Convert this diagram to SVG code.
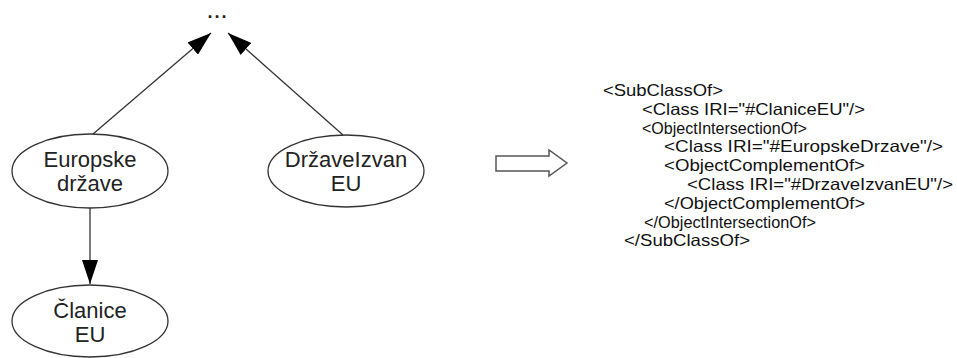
<svg xmlns="http://www.w3.org/2000/svg" width="957" height="358" viewBox="0 0 957 358">
<style>
.node ellipse{fill:#fff;stroke:#333;stroke-width:1.3}
.lbl{font-family:"Liberation Sans",Arial,sans-serif;font-size:22px;fill:#222;text-anchor:middle}
.dots{font-family:"Liberation Sans",Arial,sans-serif;font-size:18px;font-weight:bold;fill:#222;text-anchor:middle}
.edge{stroke:#333;stroke-width:1.3;fill:none}
.xml{font-family:"Liberation Sans",Arial,sans-serif;font-size:16.5px;fill:#111}
</style>
<defs>
<marker id="ah" viewBox="0 0 24 16" refX="24" refY="8" markerWidth="24" markerHeight="16" markerUnits="userSpaceOnUse" orient="auto">
<path d="M0,0 L24,8 L0,16 Z" fill="#000"/>
</marker>
</defs>
<rect width="957" height="358" fill="#fff"/>
<g id="top">
<text x="218" y="18" class="dots" letter-spacing="2">...</text>
</g>
<g id="connectors">
<line class="edge" x1="93" y1="134" x2="211" y2="33" marker-end="url(#ah)"/>
<line class="edge" x1="343" y1="135" x2="228" y2="33" marker-end="url(#ah)"/>
<line class="edge" x1="90" y1="208" x2="90" y2="284" marker-end="url(#ah)"/>
</g>
<g id="europske" class="node">
<ellipse cx="90" cy="171" rx="78" ry="37"/>
<text x="90" y="167" class="lbl">Europske</text>
<text x="90" y="191" class="lbl">države</text>
</g>
<g id="drzaveizvan" class="node">
<ellipse cx="346" cy="171" rx="78" ry="36"/>
<text x="346" y="167" class="lbl">DržaveIzvan</text>
<text x="346" y="191" class="lbl">EU</text>
</g>
<g id="clanice" class="node">
<ellipse cx="90" cy="321" rx="78" ry="36"/>
<text x="90" y="318" class="lbl">Članice</text>
<text x="90" y="342" class="lbl">EU</text>
</g>
<g id="blockarrow">
<polygon points="496,156 549,156 549,150 567,163 549,176 549,171 496,171" fill="#fff" stroke="#555" stroke-width="1.5"/>
</g>
<g id="owlxml" class="xml">
<text x="603" y="96" textLength="120" lengthAdjust="spacingAndGlyphs">&lt;SubClassOf&gt;</text>
<text x="642" y="114.8" textLength="223" lengthAdjust="spacingAndGlyphs">&lt;Class IRI="#ClaniceEU"/&gt;</text>
<text x="642" y="133.6" textLength="165" lengthAdjust="spacingAndGlyphs">&lt;ObjectIntersectionOf&gt;</text>
<text x="664" y="152.4" textLength="279" lengthAdjust="spacingAndGlyphs">&lt;Class IRI="#EuropskeDrzave"/&gt;</text>
<text x="664" y="171.2" textLength="201" lengthAdjust="spacingAndGlyphs">&lt;ObjectComplementOf&gt;</text>
<text x="687" y="190" textLength="266" lengthAdjust="spacingAndGlyphs">&lt;Class IRI="#DrzaveIzvanEU"/&gt;</text>
<text x="664" y="208.8" textLength="201" lengthAdjust="spacingAndGlyphs">&lt;/ObjectComplementOf&gt;</text>
<text x="644" y="227.6" textLength="172" lengthAdjust="spacingAndGlyphs">&lt;/ObjectIntersectionOf&gt;</text>
<text x="624" y="246.4" textLength="126" lengthAdjust="spacingAndGlyphs">&lt;/SubClassOf&gt;</text>
</g>
</svg>
